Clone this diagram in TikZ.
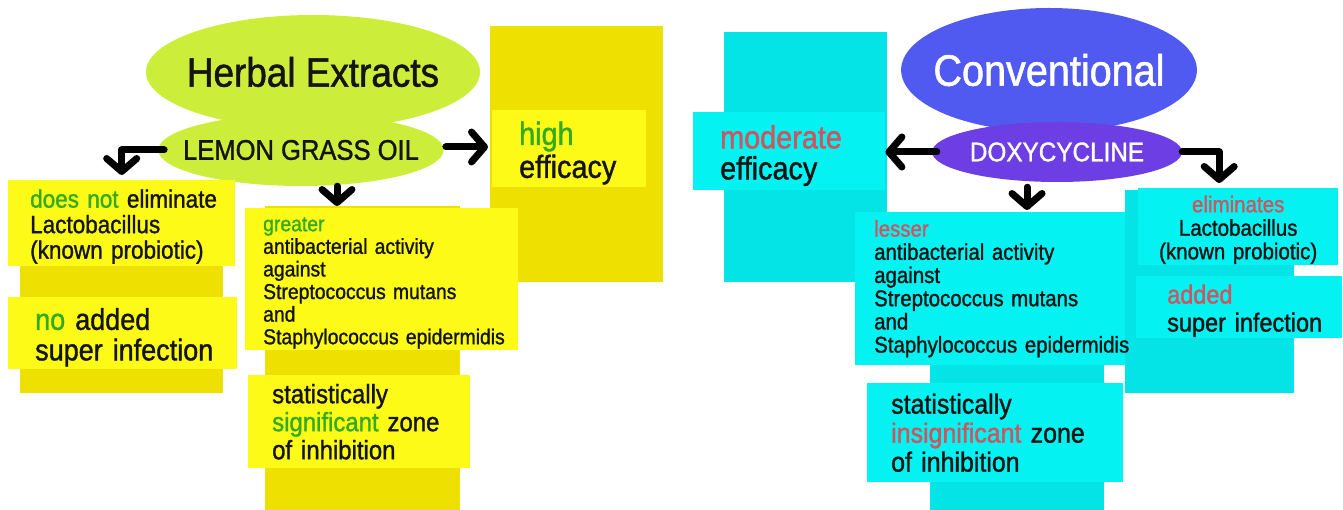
\documentclass[tikz,border=0pt]{standalone}
\usepackage{fontspec}
\setmainfont{Liberation Sans}[FakeStretch=0.9, FakeBold=1.2]
\usepackage{tikz}
\usetikzlibrary{positioning,arrows.meta,shapes.geometric}
\definecolor{ybox}{RGB}{252,250,22}
\definecolor{yback}{RGB}{238,224,0}
\definecolor{cbox}{RGB}{4,242,242}
\definecolor{cback}{RGB}{4,228,230}
\definecolor{lime}{RGB}{204,238,58}
\definecolor{convblue}{RGB}{80,90,240}
\definecolor{doxyblue}{RGB}{108,62,228}
\definecolor{hgreen}{RGB}{52,170,30}
\definecolor{hred}{RGB}{206,84,96}
\definecolor{ink}{RGB}{20,20,20}
\hyphenpenalty=10000
\exhyphenpenalty=10000

\begin{document}
\begin{tikzpicture}[x=1pt, y=-1pt, text=ink,
  tbox/.style={rectangle, anchor=north west, align=left, inner ysep=0pt},
  drop/.style={execute at begin node={\rule{0pt}{1em}}},
  oval/.style={ellipse, inner ysep=0pt},
  arr/.style={line width=7pt, line cap=round, line join=round, -{Straight Barb[length=13pt,width=30pt,round]}}]
\useasboundingbox (0,0) rectangle (1343,510);

\fill[yback] (490,26) rectangle (663,282);
\fill[yback] (20,185) rectangle (223,393);
\fill[yback] (265,206) rectangle (460,510);
\fill[cback] (724,32) rectangle (887,282);
\fill[cback] (1125,190) rectangle (1294,393);
\fill[cback] (930,213) rectangle (1104,510);

\node[oval, fill=lime, inner xsep=-8pt, minimum height=114pt, font=\fontsize{41}{41}\selectfont] (herbal) at (313,72) {Herbal Extracts};
\node[oval, fill=lime, inner xsep=-17pt, minimum height=72pt, font=\fontsize{28.4}{28}\selectfont] (lemon) at (301,150) {LEMON GRASS OIL};
\node[oval, fill=convblue, text=white, inner xsep=-11pt, minimum height=124pt, font=\fontsize{44}{44}\selectfont] (conv) at (1049,70) {Conventional};
\node[oval, fill=doxyblue, text=white, inner xsep=0pt, minimum width=250pt, minimum height=60pt, font=\fontsize{27}{27}\selectfont] (doxy) at (1057,152) {DOXYCYCLINE};

\node[tbox, drop, fill=ybox, inner xsep=27pt, text width=100pt, minimum height=77pt, font=\fontsize{32}{33}\selectfont] (high) at (492,110) {\textcolor{hgreen}{high}\\efficacy};
\node[tbox, drop, fill=ybox, inner xsep=22pt, text width=183pt, minimum height=86pt, font=\fontsize{25}{25.5}\selectfont] (doesnot) at (8,180) {\textcolor{hgreen}{does~not}~eliminate\\Lactobacillus\\(known~probiotic)};
\node[tbox, drop, fill=ybox, inner xsep=27pt, text width=175pt, minimum height=72pt, font=\fontsize{30}{30.5}\selectfont] (noadd) at (8,297) {\textcolor{hgreen}{no} added\\super~infection};
\node[tbox, drop, fill=ybox, inner xsep=18pt, text width=237pt, minimum height=142pt, font=\fontsize{21.5}{22.6}\selectfont] (greater) at (245,208) {\textcolor{hgreen}{greater}\\antibacterial~activity\\against\\Streptococcus~mutans\\and\\Staphylococcus~epidermidis};
\node[tbox, fill=ybox, inner xsep=24pt, text width=174pt, minimum height=93pt, font=\fontsize{26.6}{28}\selectfont] (sig) at (248,375) {statistically\\\textcolor{hgreen}{significant}~zone\\of~inhibition};

\node[tbox, drop, fill=cbox, inner xsep=27pt, text width=138pt, minimum height=78pt, font=\fontsize{32}{31}\selectfont] (mod) at (693,112) {\textcolor{hred}{moderate}\\efficacy};
\node[tbox, drop, fill=cbox, align=center, inner xsep=10pt, text width=180pt, minimum height=77pt, font=\fontsize{22.8}{23.5}\selectfont] (elim) at (1138,188) {\textcolor{hred}{eliminates}\\Lactobacillus\\(known~probiotic)};
\node[tbox, drop, fill=cbox, inner xsep=31pt, text width=144pt, minimum height=62pt, font=\fontsize{26.1}{28}\selectfont] (added) at (1136,276) {\textcolor{hred}{added}\\super~infection};
\node[tbox, fill=cbox, inner xsep=19pt, text width=232pt, minimum height=153pt, font=\fontsize{22.7}{23.2}\selectfont] (lesser) at (855,212) {\textcolor{hred}{lesser}\\antibacterial~activity\\against\\Streptococcus~mutans\\and\\Staphylococcus~epidermidis};
\node[tbox, fill=cbox, inner xsep=24pt, text width=208pt, minimum height=99pt, font=\fontsize{27.7}{29}\selectfont] (insig) at (867,383) {statistically\\\textcolor{hred}{insignificant}~zone\\of~inhibition};

\draw[arr, shorten <=2pt, shorten >=4pt] ([yshift=3pt]lemon.east) -- ([yshift=3pt]lemon.east -| high.west);
\draw[arr, shorten <=-6pt, shorten >=5pt] (lemon.west) -| (doesnot.north);
\draw[arr, shorten >=2pt] ([xshift=36pt]lemon.south) -- ([xshift=36pt]lemon.south |- greater.north);
\draw[arr, shorten <=-5pt] (doxy.west) -- (doxy.west -| mod.east);
\draw[arr, shorten <=5pt, shorten >=2pt] ([xshift=-30pt]doxy.south) -- ([xshift=-30pt]doxy.south |- lesser.north);
\draw[arr, shorten >=5pt] (doxy.east) -| ([xshift=-19pt]elim.north);
\end{tikzpicture}
\end{document}
